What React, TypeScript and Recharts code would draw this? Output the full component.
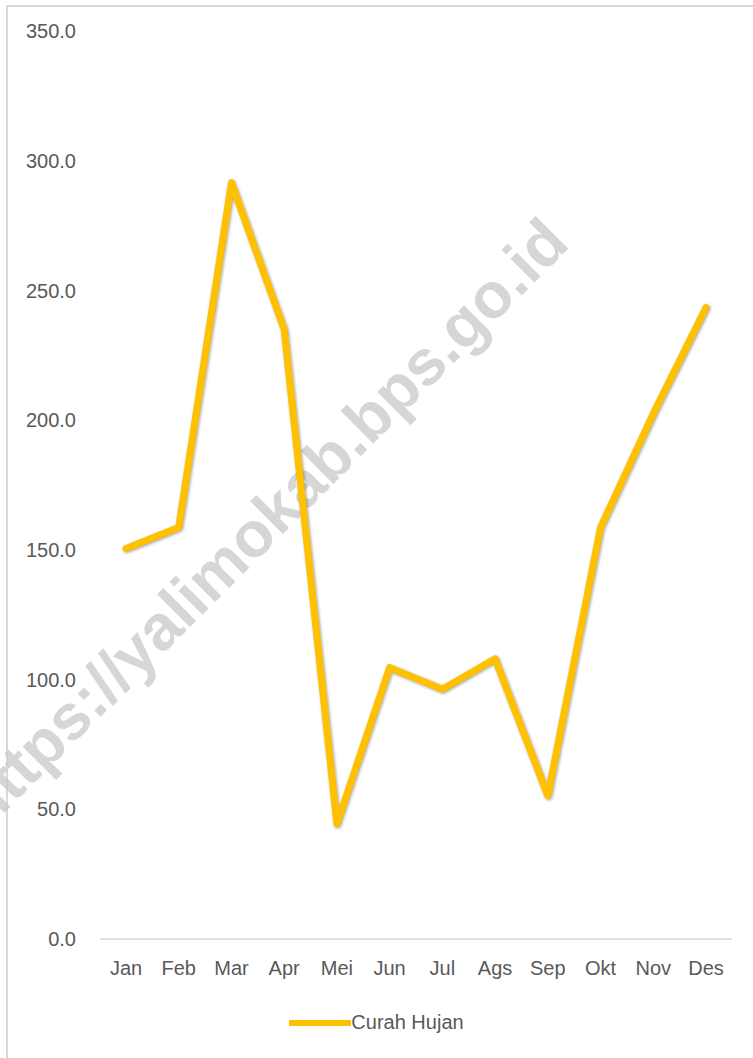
import React from "react";
import { LineChart, Line, XAxis, YAxis, Legend } from "recharts";

const months = ["Jan", "Feb", "Mar", "Apr", "Mei", "Jun", "Jul", "Ags", "Sep", "Okt", "Nov", "Des"];
const curahHujan = [150.5, 158.6, 291.5, 235.0, 44.4, 104.6, 96.3, 108.0, 55.2, 158.6, 202.5, 243.4];
const yTicks = [0, 50, 100, 150, 200, 250, 300, 350];
const seriesName = "Curah Hujan";
const watermark = "https://yalimokab.bps.go.id";

const data = months.map((m, i) => ({ month: m, value: curahHujan[i] }));

const FONT = "'Liberation Sans', Arial, sans-serif";
const TEXT_COLOR = "#595959";
const LINE_COLOR = "#FFC000";

const renderLegend = () => (
  <div style={{ display: "flex", justifyContent: "center", alignItems: "center", width: 753 }}>
    <svg width={62} height={12} style={{ display: "block" }}>
      <line x1={2} y1={6} x2={60} y2={6} stroke={LINE_COLOR} strokeWidth={6} strokeLinecap="round" />
    </svg>
    <span style={{ fontFamily: FONT, fontSize: 20, color: TEXT_COLOR, marginLeft: 0 }}>{seriesName}</span>
  </div>
);

export default function App() {
  return (
    <div style={{ position: "absolute", left: 0, top: 0, width: 753, height: 1058, background: "#fff", overflow: "hidden" }}>
      <div
        style={{
          position: "absolute",
          left: 6,
          top: 5,
          width: 760,
          height: 1070,
          borderTop: "2px solid #d9d9d9",
          borderLeft: "2px solid #d9d9d9",
        }}
      />
      <svg width={753} height={1058} style={{ position: "absolute", left: 0, top: 0 }}>
        <text
          x={263}
          y={523}
          transform="rotate(-45 263 523)"
          textAnchor="middle"
          dominantBaseline="central"
          fontFamily={FONT}
          fontWeight="bold"
          fontSize={64}
          fill="#c8c8c8"
          fillOpacity={0.75}
        >
          {watermark}
        </text>
      </svg>
      <div style={{ position: "absolute", left: 0, top: 0 }}>
        <LineChart width={753} height={1058} data={data} margin={{ top: 31, right: 21, bottom: 66, left: 0 }}>
          <XAxis
            dataKey="month"
            padding={{ left: 26, right: 26 }}
            tickLine={false}
            axisLine={{ stroke: "#d9d9d9", strokeWidth: 1.5 }}
            tick={{ fill: TEXT_COLOR, fontSize: 20, fontFamily: FONT }}
            tickMargin={16}
            interval={0}
          />
          <YAxis
            width={100}
            domain={[0, 350]}
            ticks={yTicks}
            tickFormatter={(v: number) => v.toFixed(1)}
            tickLine={false}
            axisLine={false}
            tick={{ fill: TEXT_COLOR, fontSize: 20, fontFamily: FONT }}
            tickMargin={18}
          />
          <Legend
            content={renderLegend}
            wrapperStyle={{ position: "absolute", left: 0, top: 1011, width: 753 }}
          />
          <Line
            type="linear"
            dataKey="value"
            name={seriesName}
            stroke={LINE_COLOR}
            strokeWidth={7}
            dot={false}
            activeDot={false}
            strokeLinejoin="round"
            strokeLinecap="round"
            isAnimationActive={false}
            style={{ filter: "drop-shadow(1px 1.5px 1.5px rgba(0,0,0,0.35))" }}
          />
        </LineChart>
      </div>
    </div>
  );
}
